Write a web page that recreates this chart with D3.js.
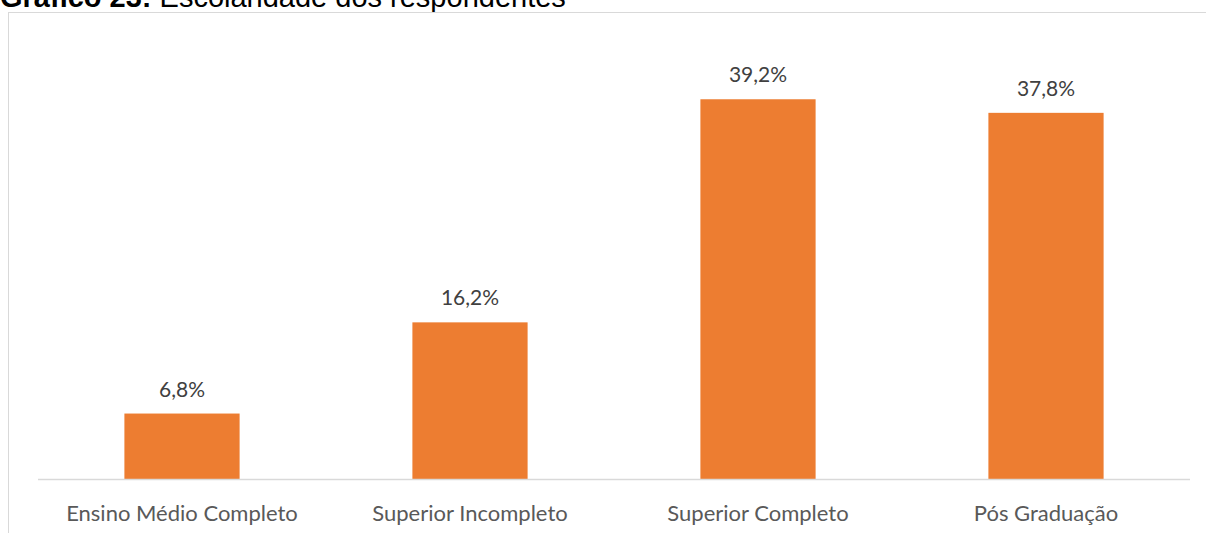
<!DOCTYPE html>
<html>
<head>
<meta charset="utf-8">
<script src="https://cdn.jsdelivr.net/npm/d3@7"></script>
<style>
  html, body { margin: 0; padding: 0; background: #fff; overflow: hidden; }
</style>
</head>
<body>
<svg id="chart"></svg>
<script>
let categories = ["Ensino Médio Completo", "Superior Incompleto", "Superior Completo", "Pós Graduação"];
let values = [6.8, 16.2, 39.2, 37.8];
let valueLabels = ["6,8%", "16,2%", "39,2%", "37,8%"];

let width = 1206;
let height = 533;

let svg = d3.select("#chart")
  .attr("width", width)
  .attr("height", height);

// title (cut off at the top in the original)
let title = svg.append("text")
  .attr("x", 0)
  .attr("y", 7)
  .style("font-family", "'Liberation Sans', Arial, sans-serif")
  .style("font-size", "29px")
  .style("fill", "#000");
title.append("tspan").style("font-weight", "bold").text("Gráfico 23:");
title.append("tspan").text(" Escolaridade dos respondentes");

// chart frame
svg.append("rect")
  .attr("x", 8.5)
  .attr("y", 12.5)
  .attr("width", 1300)
  .attr("height", 600)
  .attr("fill", "none")
  .attr("stroke", "#d9d9d9")
  .attr("stroke-width", 1);

let x = d3.scaleBand()
  .domain(categories)
  .range([38, 1190])
  .paddingInner(0.6)
  .paddingOuter(0.3);

let y = d3.scaleLinear()
  .domain([0, 45])
  .range([479.5, 43]);

// bars
svg.selectAll(".bar")
  .data(values)
  .enter()
  .append("rect")
  .attr("class", "bar")
  .attr("x", function (d, i) { return x(categories[i]); })
  .attr("y", function (d) { return y(d); })
  .attr("width", x.bandwidth())
  .attr("height", function (d) { return y(0) - y(d); })
  .attr("fill", "#ED7D31");

// baseline axis
let xAxis = svg.append("g")
  .attr("transform", "translate(0," + y(0) + ")")
  .call(d3.axisBottom(x).tickSize(0).tickPadding(26));
xAxis.select(".domain")
  .attr("d", "M38,0H1190")
  .attr("stroke", "#d9d9d9")
  .attr("stroke-width", 1.5);
xAxis.selectAll("text")
  .style("font-family", "Lato, 'Open Sans', sans-serif")
  .style("font-size", "22px")
  .style("fill", "#595959");

// value labels
svg.selectAll(".val")
  .data(values)
  .enter()
  .append("text")
  .attr("class", "val")
  .attr("x", function (d, i) { return x(categories[i]) + x.bandwidth() / 2; })
  .attr("y", function (d) { return y(d) - 17; })
  .attr("text-anchor", "middle")
  .style("font-family", "Lato, 'Open Sans', sans-serif")
  .style("font-size", "21px")
  .style("fill", "#404040")
  .text(function (d, i) { return valueLabels[i]; });
</script>
</body>
</html>
